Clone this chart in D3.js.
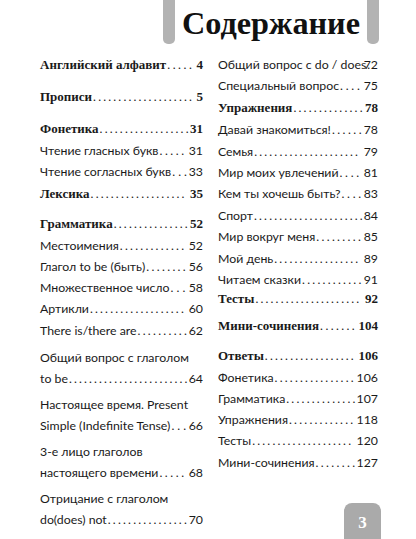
<!DOCTYPE html>
<html><head><meta charset="utf-8">
<script src="https://cdn.jsdelivr.net/npm/d3@7"></script>
<style>body{margin:0;background:#fff}svg{display:block}</style>
</head><body>
<svg id="c" width="416" height="539"></svg>
<script>
const title = "Содержание";
const pageNumber = "3";
// [text lines, page, bold]
const leftEntries = [
  [["Английский алфавит"], "4", true],
  [["Прописи"], "5", true],
  [["Фонетика"], "31", true],
  [["Чтение гласных букв"], "31", false],
  [["Чтение согласных букв"], "33", false],
  [["Лексика"], "35", true],
  [["Грамматика"], "52", true],
  [["Местоимения"], "52", false],
  [["Глагол to be (быть)"], "56", false],
  [["Множественное число"], "58", false],
  [["Артикли"], "60", false],
  [["There is/there are"], "62", false],
  [["Общий вопрос с глаголом", "to be"], "64", false],
  [["Настоящее время. Present", "Simple (Indefinite Tense)"], "66", false],
  [["3-е лицо глаголов", "настоящего времени"], "68", false],
  [["Отрицание с глаголом", "do(does) not"], "70", false]
];
const rightEntries = [
  [["Общий вопрос с do / does"], "72", false],
  [["Специальный вопрос"], "75", false],
  [["Упражнения"], "78", true],
  [["Давай знакомиться!"], "78", false],
  [["Семья"], "79", false],
  [["Мир моих увлечений"], "81", false],
  [["Кем ты хочешь быть?"], "83", false],
  [["Спорт"], "84", false],
  [["Мир вокруг меня"], "85", false],
  [["Мой день"], "89", false],
  [["Читаем сказки"], "91", false],
  [["Тесты"], "92", true],
  [["Мини-сочинения"], "104", true],
  [["Ответы"], "106", true],
  [["Фонетика"], "106", false],
  [["Грамматика"], "107", false],
  [["Упражнения"], "118", false],
  [["Тесты"], "120", false],
  [["Мини-сочинения"], "127", false]
];
// first-line baseline of each entry
const leftY = [69,101,133,155,176,198,228,250,271,292,313,335,362,409,456,503];
const rightY = [69,90,112,134,156,177,198,220,241,263,284,303,330,360,382,403,424,445,467];

const svg = d3.select("#c");
const serif = "'Liberation Serif', serif", sans = "Lato, 'Open Sans', sans-serif";
svg.append("rect").attr("x",163).attr("y",-8).attr("width",12).attr("height",52).attr("rx",5).attr("fill","#b3b3b3");
svg.append("rect").attr("x",367).attr("y",-8).attr("width",12).attr("height",52).attr("rx",5).attr("fill","#b3b3b3");
svg.append("text").attr("x",182).attr("y",34)
  .attr("font-family",serif).attr("font-weight","bold").attr("font-size",32).attr("fill","#111")
  .attr("textLength",178).attr("lengthAdjust","spacingAndGlyphs").text(title);
svg.append("path").attr("d","M344,539 V511 a8,8 0 0 1 8,-8 H373 a8,8 0 0 1 8,8 V539 Z").attr("fill","#aaa");
svg.append("text").attr("x",362.5).attr("y",528).attr("text-anchor","middle").attr("font-family",serif)
  .attr("font-weight","bold").attr("font-size",17).attr("fill","#fff").text(pageNumber);

function column(entries, ys, x0, x1){
  const g = svg.append("g");
  entries.forEach((e,i)=>{
    const [lines,page,bold] = e;
    const fam = bold ? serif : sans, fw = bold ? "bold":"normal", fs = bold ? 13 : 12.3;
    const y = ys[i];
    lines.forEach((ln,j)=>{
      const ly = y + j*21;
      const t = g.append("text").attr("x",x0).attr("y",ly).attr("font-family",fam).attr("font-weight",fw)
        .attr("font-size",fs).attr("fill","#1a1a1a").text(ln);
      if(j===lines.length-1){
        const p = g.append("text").attr("x",x1).attr("y",ly).attr("text-anchor","end").attr("font-family",fam)
          .attr("font-weight",fw).attr("font-size",fs).attr("fill","#1a1a1a").text(page);
        const tw = t.node().getComputedTextLength(), pw = p.node().getComputedTextLength();
        const avail = x1 - pw - (x0+tw) - 2;
        const d = g.append("text").attr("y",ly).attr("font-family",sans).attr("font-size",12.3).attr("fill","#1a1a1a").text(".");
        const dw = d.node().getComputedTextLength()*1.7;
        const n = Math.max(1, Math.floor(avail/dw));
        d.attr("x",x0+tw+1).attr("textLength",Math.max(2,Math.min(avail,n*dw))).attr("lengthAdjust","spacing").text(".".repeat(n));
      }
    });
  });
}
column(leftEntries, leftY, 40, 203);
column(rightEntries, rightY, 218, 378);
</script>
</body></html>
